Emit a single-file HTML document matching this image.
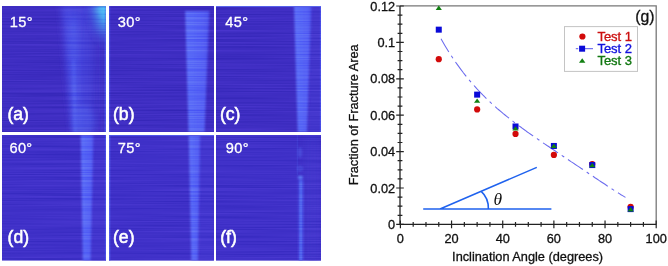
<!DOCTYPE html>
<html><head><meta charset="utf-8"><style>
html,body{margin:0;padding:0;background:#fff;}
body{width:668px;height:266px;position:relative;overflow:hidden;}
svg{position:absolute;left:0;top:0;}
text{font-family:"Liberation Sans",sans-serif;}
.tl{font-size:12.75px;fill:#111;stroke:#111;stroke-width:0.3px;}
.g{font-size:15.8px;fill:#111;stroke:#111;stroke-width:0.3px;}
.lg{font-size:13px;stroke-width:0.35px;}
.th{font-family:"Liberation Serif",serif;font-style:italic;font-size:17.5px;fill:#111;}
.an{font-size:14.6px;fill:#fff;stroke:#fff;stroke-width:0.3px;letter-spacing:0.3px;}
.lb{font-size:17.6px;fill:#fff;stroke:#fff;stroke-width:0.55px;}
</style></head><body>
<svg width="668" height="266" viewBox="0 0 668 266">
<defs>
<filter id="bl" x="-20%" y="-20%" width="140%" height="140%"><feGaussianBlur stdDeviation="1.2"/></filter>
<filter id="bl2" x="-50%" y="-50%" width="200%" height="200%"><feGaussianBlur stdDeviation="3"/></filter>
<clipPath id="ca"><rect x="2" y="6" width="104" height="126"/></clipPath>
<clipPath id="cb"><rect x="109" y="6" width="105" height="126"/></clipPath>
<clipPath id="cc"><rect x="216" y="6" width="105" height="126"/></clipPath>
<clipPath id="cd"><rect x="2" y="135" width="104" height="125.6"/></clipPath>
<clipPath id="ce"><rect x="109" y="135" width="105" height="125.6"/></clipPath>
<clipPath id="cf"><rect x="216" y="135" width="105" height="125.6"/></clipPath>
<linearGradient id="sg" x1="0" x2="1" y1="0" y2="0"><stop offset="0" stop-color="rgb(92,110,248)"/><stop offset="0.3" stop-color="rgb(88,104,247)"/><stop offset="0.75" stop-color="rgb(84,96,244)"/><stop offset="1" stop-color="rgb(78,84,236)"/></linearGradient>
<linearGradient id="ag" x1="0" x2="1" y1="0" y2="0"><stop offset="0" stop-color="rgb(66,56,200)"/><stop offset="0.2" stop-color="rgb(84,96,232)"/><stop offset="0.45" stop-color="rgb(78,84,224)"/><stop offset="1" stop-color="rgb(70,66,208)"/></linearGradient>
<radialGradient id="cg"><stop offset="0" stop-color="rgb(70,160,245)"/><stop offset="0.6" stop-color="rgb(70,130,235)" stop-opacity="0.7"/><stop offset="1" stop-color="rgb(70,100,230)" stop-opacity="0"/></radialGradient>
<filter id="nz" color-interpolation-filters="sRGB" x="0" y="0" width="668" height="266" filterUnits="userSpaceOnUse"><feTurbulence type="fractalNoise" baseFrequency="0.007 0.7" numOctaves="2" seed="7" result="t"/><feColorMatrix in="t" type="matrix" values="1 0 0 0 0  1 0 0 0 0  1 0 0 0 0  0 0 0 0 1" result="g"/><feComposite in="g" in2="SourceGraphic" operator="in"/></filter>
</defs>
<rect x="2" y="6" width="104" height="126" fill="rgb(62,45,194)"/>
<rect x="109" y="6" width="105" height="126" fill="rgb(62,45,194)"/>
<rect x="216" y="6" width="105" height="126" fill="rgb(62,45,194)"/>
<rect x="2" y="135" width="104" height="125.6" fill="rgb(63,48,200)"/>
<rect x="109" y="135" width="105" height="125.6" fill="rgb(63,48,200)"/>
<rect x="216" y="135" width="105" height="125.6" fill="rgb(63,48,200)"/>
<linearGradient id="ag2" x1="0" x2="1" y1="0" y2="0"><stop offset="0" stop-color="rgb(72,72,224)"/><stop offset="0.25" stop-color="rgb(72,72,224)"/><stop offset="0.7" stop-color="rgb(69,66,216)"/><stop offset="1" stop-color="rgb(66,58,208)"/></linearGradient>
<radialGradient id="cg2" cx="1" cy="0" r="1"><stop offset="0" stop-color="rgb(80,196,248)"/><stop offset="0.3" stop-color="rgb(76,170,242)"/><stop offset="0.55" stop-color="rgb(72,125,234)" stop-opacity="0.75"/><stop offset="0.8" stop-color="rgb(68,95,226)" stop-opacity="0.3"/><stop offset="1" stop-color="rgb(64,80,220)" stop-opacity="0"/></radialGradient>
<g clip-path="url(#ca)"><polygon points="95,14 104,14 104,132 95,132" fill="rgb(64,52,202)" filter="url(#bl2)"/><polygon points="61,6 95,6 94,132 72,132" fill="url(#ag2)" filter="url(#bl2)"/><polygon points="69,18 77,18 79,132 73,132" fill="rgb(80,92,236)" opacity="0.7" filter="url(#bl2)"/><polygon points="72,60 75,60 77,132 73.5,132" fill="rgb(84,100,240)" opacity="0.6" filter="url(#bl)"/><ellipse cx="84" cy="122" rx="10" ry="16" fill="rgb(80,94,238)" opacity="0.5" filter="url(#bl2)"/><rect x="104.6" y="6" width="1.4" height="126" fill="rgb(74,80,232)"/><rect x="84" y="6" width="22" height="44" fill="url(#cg2)" filter="url(#bl)"/></g>
<g clip-path="url(#cb)"><polygon points="185.2,11 209.3,11 204.6,132 188.5,132" fill="url(#sg)" filter="url(#bl)"/><rect x="109" y="6" width="1.2" height="126" fill="rgb(70,70,225)"/></g>
<g clip-path="url(#cc)"><polygon points="311,6 321,6 321,132 308,132" fill="rgb(66,54,204)" filter="url(#bl)"/><polygon points="294,6 311.5,6 307.1,132 297.7,132" fill="url(#sg)" filter="url(#bl)"/><rect x="319.8" y="6" width="1.2" height="126" fill="rgb(72,76,230)"/><rect x="216" y="6" width="105" height="1" fill="rgb(90,100,235)"/></g>
<g clip-path="url(#cd)"><polygon points="93,135 106,135 106,261 91,261" fill="rgb(66,54,206)" filter="url(#bl)"/><polygon points="80.7,135 93.6,135 90.7,261 82.8,261" fill="url(#sg)" filter="url(#bl)"/><rect x="104.8" y="135" width="1.2" height="126" fill="rgb(72,76,230)"/></g>
<g clip-path="url(#ce)"><polygon points="200,135 214,135 214,261 198,261" fill="rgb(66,54,206)" filter="url(#bl)"/><polygon points="188.7,135 200.4,135 198,261 191.3,261" fill="url(#sg)" filter="url(#bl)"/><rect x="109" y="135" width="1.3" height="126" fill="rgb(78,86,235)"/><rect x="109" y="135" width="105" height="1" fill="rgb(80,86,232)"/></g>
<g clip-path="url(#cf)"><polygon points="305,135 321,135 321,261 305,261" fill="rgb(66,52,204)" filter="url(#bl2)"/><rect x="296.8" y="135" width="1" height="40" fill="rgb(74,76,226)" opacity="0.5"/><g filter="url(#bl)"><ellipse cx="300" cy="152.5" rx="2.2" ry="5.5" fill="rgb(84,104,238)" opacity="0.45"/><ellipse cx="300" cy="168.6" rx="2.2" ry="2" fill="none" stroke="rgb(84,104,238)" stroke-width="1.2" opacity="0.7"/><ellipse cx="300.4" cy="177.6" rx="2.6" ry="2" fill="rgb(90,120,244)"/><polygon points="298.6,180 303.4,180 303.2,261 298.8,261" fill="rgb(76,88,234)"/></g><rect x="300" y="181" width="1.5" height="80" fill="rgb(88,116,244)" filter="url(#bl)"/></g>
<g style="mix-blend-mode:overlay" opacity="0.25" filter="url(#nz)"><rect x="2" y="6" width="104" height="126"/><rect x="109" y="6" width="105" height="126"/><rect x="216" y="6" width="105" height="126"/><rect x="2" y="135" width="104" height="125.6"/><rect x="109" y="135" width="105" height="125.6"/><rect x="216" y="135" width="105" height="125.6"/></g>
<text x="9.8" y="27.2" class="an">15°</text>
<text x="117.8" y="27.3" class="an">30°</text>
<text x="225.3" y="27.2" class="an">45°</text>
<text x="9.5" y="153.1" class="an">60°</text>
<text x="117.8" y="153.1" class="an">75°</text>
<text x="225.8" y="153.1" class="an">90°</text>
<text x="7.4" y="120.0" class="lb">(a)</text>
<text x="113.0" y="120.0" class="lb">(b)</text>
<text x="219.9" y="120.0" class="lb">(c)</text>
<text x="7.6" y="243.4" class="lb">(d)</text>
<text x="113.0" y="243.4" class="lb">(e)</text>
<text x="220.2" y="243.4" class="lb">(f)</text>
<path d="M400,5.9 H656.2 V224.4" fill="none" stroke="#777" stroke-width="1.3"/>
<path d="M400,5.9 V224.4 H656.2" fill="none" stroke="#222" stroke-width="1.3"/>
<path d="M396.2,224.40H403.8M397.6,215.30H402.4M397.6,206.20H402.4M397.6,197.10H402.4M396.2,188.00H403.8M397.6,178.90H402.4M397.6,169.80H402.4M397.6,160.70H402.4M396.2,151.60H403.8M397.6,142.50H402.4M397.6,133.40H402.4M397.6,124.30H402.4M396.2,115.20H403.8M397.6,106.10H402.4M397.6,97.00H402.4M397.6,87.90H402.4M396.2,78.80H403.8M397.6,69.70H402.4M397.6,60.60H402.4M397.6,51.50H402.4M396.2,42.40H403.8M397.6,33.30H402.4M397.6,24.20H402.4M397.6,15.10H402.4M396.2,6.00H403.8M400.40,220.6V228.2M413.19,222V226.8M425.98,222V226.8M438.77,222V226.8M451.56,220.6V228.2M464.35,222V226.8M477.14,222V226.8M489.93,222V226.8M502.72,220.6V228.2M515.51,222V226.8M528.30,222V226.8M541.09,222V226.8M553.88,220.6V228.2M566.67,222V226.8M579.46,222V226.8M592.25,222V226.8M605.04,220.6V228.2M617.83,222V226.8M630.62,222V226.8M643.41,222V226.8M656.20,220.6V228.2" stroke="#222" stroke-width="1.2"/>
<text x="395.2" y="229.05" text-anchor="end" class="tl">0</text>
<text x="395.2" y="192.65" text-anchor="end" class="tl">0.02</text>
<text x="395.2" y="156.25" text-anchor="end" class="tl">0.04</text>
<text x="395.2" y="119.85" text-anchor="end" class="tl">0.06</text>
<text x="395.2" y="83.45" text-anchor="end" class="tl">0.08</text>
<text x="395.2" y="47.05" text-anchor="end" class="tl">0.1</text>
<text x="395.2" y="10.65" text-anchor="end" class="tl">0.12</text>
<text x="400.40" y="242.6" text-anchor="middle" class="tl">0</text>
<text x="451.56" y="242.6" text-anchor="middle" class="tl">20</text>
<text x="502.72" y="242.6" text-anchor="middle" class="tl">40</text>
<text x="553.88" y="242.6" text-anchor="middle" class="tl">60</text>
<text x="605.04" y="242.6" text-anchor="middle" class="tl">80</text>
<text x="656.20" y="242.6" text-anchor="middle" class="tl">100</text>
<text x="527.6" y="261.3" text-anchor="middle" class="tl">Inclination Angle (degrees)</text>
<text transform="translate(358.1,114.8) rotate(-90)" text-anchor="middle" class="tl">Fraction of Fracture Area</text>
<text x="654.6" y="22.2" text-anchor="end" class="g">(g)</text>
<path d="M423.2,209H551.4 M440,209L536.8,167.4" stroke="#1f62ee" stroke-width="1.55" fill="none"/>
<path d="M481.2,191.4 Q488.6,198 488.4,209" stroke="#1f62ee" stroke-width="1.55" fill="none"/>
<text x="493.5" y="205" class="th">θ</text>
<path d="M441.0,38.8 L443.0,42.3 L445.0,45.7 L447.0,49.0 L449.0,52.2 L451.0,55.3 L453.0,58.3 L455.0,61.3 L457.0,64.1 L459.0,66.9 L461.0,69.6 L463.0,72.3 L465.0,74.8 L467.0,77.3 L469.0,79.7 L471.0,82.1 L473.0,84.4 L475.0,86.7 L477.0,88.9 L479.0,91.0 L481.0,93.1 L483.0,95.2 L485.0,97.2 L487.0,99.1 L489.0,101.0 L491.0,102.9 L493.0,104.7 L495.0,106.5 L497.0,108.3 L499.0,110.0 L501.0,111.7 L503.0,113.4 L505.0,115.0 L507.0,116.6 L509.0,118.2 L511.0,119.8 L513.0,121.3 L515.0,122.9 L517.0,124.4 L519.0,125.9 L521.0,127.3 L523.0,128.8 L525.0,130.2 L527.0,131.7 L529.0,133.1 L531.0,134.5 L533.0,135.9 L535.0,137.3 L537.0,138.6 L539.0,140.0 L541.0,141.4 L543.0,142.8 L545.0,144.1 L547.0,145.5 L549.0,146.8 L551.0,148.2 L553.0,149.5 L555.0,150.8 L557.0,152.2 L559.0,153.5 L561.0,154.9 L563.0,156.2 L565.0,157.5 L567.0,158.9 L569.0,160.2 L571.0,161.6 L573.0,162.9 L575.0,164.3 L577.0,165.6 L579.0,166.9 L581.0,168.3 L583.0,169.6 L585.0,171.0 L587.0,172.3 L589.0,173.7 L591.0,175.0 L593.0,176.3 L595.0,177.7 L597.0,179.0 L599.0,180.4 L601.0,181.7 L603.0,183.0 L605.0,184.3 L607.0,185.7 L609.0,187.0 L611.0,188.3 L613.0,189.6 L615.0,190.9 L617.0,192.1 L619.0,193.4 L621.0,194.7 L623.0,195.9 L625.0,197.1 L625.5,197.4" stroke="#6b6bee" stroke-width="1.05" fill="none" stroke-dasharray="18 4.5 3 4.5" stroke-dashoffset="2.7"/>
<circle cx="438.77" cy="59.14" r="3.1" fill="#d20a0a"/>
<circle cx="477.14" cy="109.38" r="3.1" fill="#d20a0a"/>
<circle cx="515.51" cy="133.95" r="3.1" fill="#d20a0a"/>
<circle cx="553.88" cy="154.88" r="3.1" fill="#d20a0a"/>
<circle cx="592.25" cy="163.98" r="3.1" fill="#d20a0a"/>
<circle cx="630.62" cy="206.93" r="3.1" fill="#d20a0a"/>
<rect x="435.77" y="26.66" width="6" height="6" fill="#0a0ad8"/>
<rect x="474.14" y="91.63" width="6" height="6" fill="#0a0ad8"/>
<rect x="512.51" y="123.48" width="6" height="6" fill="#0a0ad8"/>
<rect x="550.88" y="142.96" width="6" height="6" fill="#0a0ad8"/>
<rect x="589.25" y="162.07" width="6" height="6" fill="#0a0ad8"/>
<rect x="627.62" y="206.11" width="6" height="6" fill="#0a0ad8"/>
<path d="M435.67,9.92H441.87L438.77,5.62Z" fill="#128012"/>
<path d="M474.04,102.74H480.24L477.14,98.44Z" fill="#128012"/>
<path d="M512.41,130.59H518.61L515.51,126.29Z" fill="#128012"/>
<path d="M550.78,147.88H556.98L553.88,143.58Z" fill="#128012"/>
<path d="M589.15,167.35H595.35L592.25,163.05Z" fill="#128012"/>
<path d="M627.52,211.39H633.72L630.62,207.09Z" fill="#128012"/>
<rect x="564.5" y="26.6" width="73" height="44.8" fill="#fff" stroke="#c4c4c4" stroke-width="1"/>
<circle cx="582.4" cy="36.5" r="3.1" fill="#d20a0a"/>
<path d="M575.8,48.6H578.2M585,48.6H593" stroke="#7777ee" stroke-width="1.05"/>
<rect x="579.1" y="45.7" width="6" height="6" fill="#0a0ad8"/>
<path d="M579,62.7H585.4L582.2,58.3Z" fill="#128012"/>
<text x="597.4" y="40.6" class="lg" fill="#cc1111" stroke="#cc1111">Test 1</text>
<text x="597.4" y="52.5" class="lg" fill="#1111dd" stroke="#1111dd">Test 2</text>
<text x="597.4" y="64.6" class="lg" fill="#117711" stroke="#117711">Test 3</text>
</svg>
</body></html>
